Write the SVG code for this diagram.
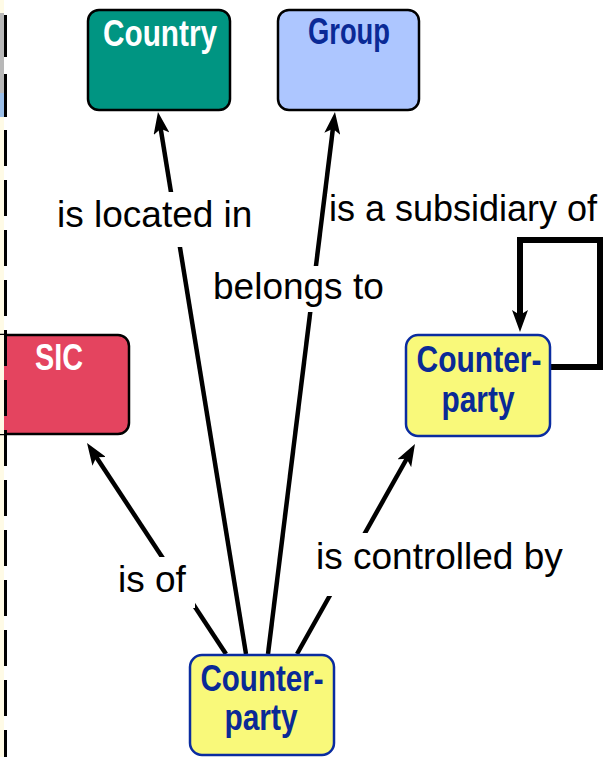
<svg xmlns="http://www.w3.org/2000/svg" width="606" height="757" viewBox="0 0 606 757">
  <defs>
    <marker id="arrow" viewBox="0 0 22 16" refX="10" refY="8" markerWidth="22" markerHeight="16" orient="auto" markerUnits="userSpaceOnUse">
      <path d="M0,0 L22,8 L0,16 L5,8 Z" fill="#000"/>
    </marker>
    <style>
      .edge { stroke: #000; stroke-width: 4.5; fill: none; marker-end: url(#arrow); }
      .loop { stroke: #000; stroke-width: 6; fill: none; marker-end: url(#arrow); stroke-linejoin: miter; }
      .box { stroke-width: 2.5; }
      .title { font-family: "Liberation Sans", Arial, sans-serif; font-weight: bold; font-size: 36px; text-anchor: middle; }
      .label { font-family: "Liberation Sans", Arial, sans-serif; font-size: 37px; fill: #000; }
      .labelbg { fill: #fff; }
    </style>
  </defs>

  <rect x="0" y="0" width="606" height="757" fill="#fff"/>

  <!-- page margin at the left -->
  <g id="margin">
    <rect x="0" y="0" width="4" height="757" fill="#fffbe6"/>
  </g>

  <!-- SIC node (runs off the left side) -->
  <g id="node-sic">
    <rect class="box" x="-20" y="335" width="149" height="99" rx="11" fill="#e4445f" stroke="#000"/>
    <text class="title" x="59" y="370" fill="#fff" textLength="48" lengthAdjust="spacingAndGlyphs">SIC</text>
  </g>

  <!-- margin overlays -->
  <g id="margin-marks">
    <rect x="0" y="335" width="4" height="99" fill="#fffbe6"/>
    <rect x="0" y="13" width="4" height="80" fill="#b8b8b8"/>
    <rect x="0" y="93" width="4" height="24" fill="#9cbfe8"/>
    <line x1="5.5" y1="15" x2="5.5" y2="57" stroke="#000" stroke-width="3"/>
    <line x1="5.5" y1="74" x2="5.5" y2="117" stroke="#000" stroke-width="3"/>
    <line x1="5.5" y1="130" x2="5.5" y2="757" stroke="#000" stroke-width="3" stroke-dasharray="36 14"/>
  </g>

  <!-- connectors -->
  <g id="connectors">
    <line class="edge" x1="246" y1="654" x2="159.9" y2="123.8"/>
    <line class="edge" x1="268" y1="654" x2="333.5" y2="123.9"/>
    <line class="edge" x1="226" y1="654" x2="93.6" y2="453"/>
    <line class="edge" x1="297" y1="654" x2="409.1" y2="454.5"/>
    <path class="loop" d="M550,367 H600 V240 H520 V320"/>
  </g>

  <!-- connector labels -->
  <g id="labels">
    <rect class="labelbg" x="52" y="192" width="206" height="55"/>
    <text class="label" x="57" y="227">is located in</text>
    <rect class="labelbg" x="208" y="266" width="182" height="46"/>
    <text class="label" x="213" y="299">belongs to</text>
    <rect class="labelbg" x="327" y="194" width="272" height="36"/>
    <text class="label" x="329" y="221" style="font-size:36px">is a subsidiary of</text>
    <rect class="labelbg" x="110" y="557" width="85" height="51"/>
    <text class="label" x="118" y="592">is of</text>
    <rect class="labelbg" x="312" y="533" width="258" height="63"/>
    <text class="label" x="316" y="569">is controlled by</text>
  </g>

  <!-- Country node -->
  <g id="node-country">
    <rect class="box" x="88" y="10" width="142" height="100" rx="11" fill="#009582" stroke="#000"/>
    <text class="title" x="160" y="46" fill="#fff" textLength="114" lengthAdjust="spacingAndGlyphs">Country</text>
  </g>

  <!-- Group node -->
  <g id="node-group">
    <rect class="box" x="278" y="10" width="141" height="100" rx="11" fill="#adc6ff" stroke="#000"/>
    <text class="title" x="349" y="44" fill="#0a2a96" textLength="82" lengthAdjust="spacingAndGlyphs">Group</text>
  </g>

  <!-- Counterparty node (right) -->
  <g id="node-counterparty-parent">
    <rect class="box" x="406" y="335" width="144" height="101" rx="12" fill="#f9f97a" stroke="#0a2ca0"/>
    <text class="title" x="479" y="372" fill="#0a2a96" textLength="125" lengthAdjust="spacingAndGlyphs">Counter-</text>
    <text class="title" x="478" y="412" fill="#0a2a96" textLength="73" lengthAdjust="spacingAndGlyphs">party</text>
  </g>

  <!-- Counterparty node (bottom) -->
  <g id="node-counterparty">
    <rect class="box" x="190" y="655" width="144" height="100" rx="12" fill="#f9f97a" stroke="#0a2ca0"/>
    <text class="title" x="262" y="691" fill="#0a2a96" textLength="123" lengthAdjust="spacingAndGlyphs">Counter-</text>
    <text class="title" x="261" y="730" fill="#0a2a96" textLength="73" lengthAdjust="spacingAndGlyphs">party</text>
  </g>
</svg>
